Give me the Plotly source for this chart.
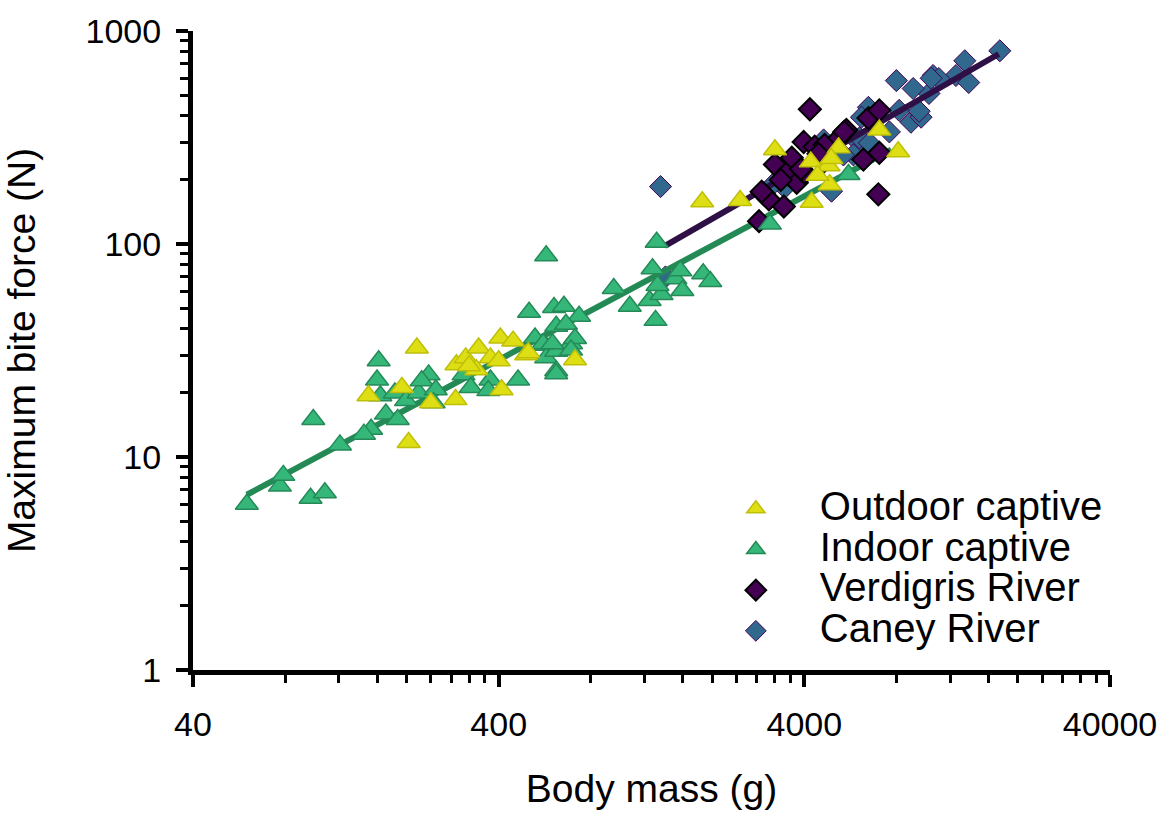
import math
import plotly.graph_objects as go

# ---------------- data ----------------
outdoor_mass = [216, 150, 193, 203, 240, 289, 291, 312, 344, 338, 376, 400, 409, 405, 446, 492, 711, 320, 500,
                1854, 2466, 3205, 4229, 4199, 4800, 5178, 4842, 7036, 8112, 4420, 4900]
outdoor_force = [32.5, 19.4, 21.2, 11.7, 18.0, 18.6, 27.1, 29.2, 32.5, 25.7, 29.2, 28.3, 20.7, 36.2, 35.0, 30.2, 28.6, 26.8, 30.9,
                 158, 160, 277, 157, 243, 233, 283, 190, 343, 271, 210, 252]

indoor_mass = [60, 77, 79, 99, 97, 108, 121, 162, 160, 164, 171, 153, 145, 183, 187, 199, 219, 236, 224, 249, 245,
               307, 324, 376, 370, 463, 526, 567, 572, 617, 617, 690,
               572, 503, 607, 654, 733, 617, 664, 559, 600, 711, 690, 617,
               1315, 1275, 952, 1074, 1304, 1247, 1364, 1514, 1596, 1571, 1867, 1970, 1323,
               3086, 5578]
indoor_force = [6.0, 7.3, 8.2, 15.0, 6.4, 6.8, 11.4, 28.3, 23.0, 19.4, 15.9, 13.5, 12.8, 20.0, 15.0, 18.4, 20.0, 24.3, 22.8, 20.7, 18.0,
                24.3, 21.2, 23.0, 20.5, 23.0, 36.2, 33.5, 29.2, 25.4, 31.4, 34.0,
                88, 47.8, 50.4, 51.0, 45.8, 41.1, 42.0, 34.0, 34.0, 36.0, 31.8, 24.6,
                102, 76.5, 61.8, 51.0, 43.8, 54.3, 57.9, 68.7, 60.5, 74.9, 72.5, 66.6, 63.8,
                124, 212]

verdigris_mass = [4170, 2843, 2953, 3062, 3428, 3205, 3509, 3777, 3640, 3980, 4011, 4325, 4660, 4625,
                  5490, 5212, 6240, 7036, 6484, 7036, 6985, 5400, 2900, 3350, 4450, 3900]
verdigris_force = [429, 128, 171, 162, 150, 236, 216, 194, 254, 301, 216, 286, 292, 243,
                   343, 315, 249, 268, 390, 424, 171, 336, 176, 200, 265, 225]

caney_mass = [17440, 13400, 10550, 12530, 13800, 11020, 10230, 9080, 8000, 8170, 8930, 9640, 6480, 6150,
              6010, 7590, 6060, 6530, 5790, 5370, 4625, 3453, 3330, 4910, 1354, 1405, 3150, 9500, 10400]
caney_force = [807, 725, 618, 618, 573, 598, 509, 537, 585, 424, 373, 394, 438, 394,
               301, 336, 315, 298, 262, 262, 308, 184, 205, 177, 186, 70, 190, 420, 600]

captive_fit_mass = [60, 7700]
captive_fit_force = [6.65, 277]
wild_fit_mass = [1400, 17300]
wild_fit_force = [98, 780]

x_tick_vals = [40, 400, 4000, 40000]
x_tick_text = ["40", "400", "4000", "40000"]
y_tick_vals = [1, 10, 100, 1000]
y_tick_text = ["1", "10", "100", "1000"]

x_minor = [40 * 10 ** d * k for d in range(3) for k in range(2, 10)]
y_minor = [10 ** d * k for d in range(3) for k in range(2, 10)]

FONT = "Liberation Sans, Arial, sans-serif"
LEG = '<span style="font-size:40px">%s</span>'

fig = go.Figure()

fig.add_trace(go.Scatter(
    x=caney_mass, y=caney_force, mode="markers", name=LEG % "Caney River", legendrank=4,
    marker=dict(symbol="diamond", size=17, color="#31688e", line=dict(color="#440154", width=1))))

fig.add_trace(go.Scatter(
    x=wild_fit_mass, y=wild_fit_force, mode="lines", showlegend=False,
    line=dict(color="#2f1046", width=6)))

fig.add_trace(go.Scatter(
    x=captive_fit_mass, y=captive_fit_force, mode="lines", showlegend=False,
    line=dict(color="#238a55", width=6)))

fig.add_trace(go.Scatter(
    x=verdigris_mass, y=verdigris_force, mode="markers", name=LEG % "Verdigris River", legendrank=3,
    marker=dict(symbol="diamond", size=17, color="#440154", line=dict(color="black", width=2))))

fig.add_trace(go.Scatter(
    x=indoor_mass, y=indoor_force, mode="markers", name=LEG % "Indoor captive", legendrank=2,
    marker=dict(symbol="triangle-up", size=20, color="#35b779", line=dict(color="#258a58", width=1.5))))

fig.add_trace(go.Scatter(
    x=outdoor_mass, y=outdoor_force, mode="markers", name=LEG % "Outdoor captive", legendrank=1,
    marker=dict(symbol="triangle-up", size=20, color="#dede14", line=dict(color="#bfbf0a", width=1.5))))

axis_common = dict(
    type="log", showgrid=False, zeroline=False, showline=True, linecolor="black", linewidth=5,
    ticks="outside", ticklen=12, tickwidth=4, tickcolor="black",
    tickfont=dict(family=FONT, size=34, color="black"),
    title_font=dict(family=FONT, size=39, color="black"),
)

fig.update_xaxes(
    **axis_common,
    range=[math.log10(40), math.log10(40000)],
    tickmode="array", tickvals=x_tick_vals, ticktext=x_tick_text,
    minor=dict(tickmode="array", tickvals=x_minor, ticks="outside", ticklen=8, tickwidth=3, tickcolor="black"),
    ticklabelstandoff=8,
    title=dict(text="Body mass (g)", standoff=34),
)
fig.update_yaxes(
    **axis_common,
    range=[0, 3],
    tickmode="array", tickvals=y_tick_vals, ticktext=y_tick_text,
    minor=dict(tickmode="array", tickvals=y_minor, ticks="outside", ticklen=8, tickwidth=3, tickcolor="black"),
    ticklabelstandoff=8,
    title=dict(text="Maximum bite force (N)", standoff=40),
)

fig.update_layout(
    width=1169, height=816,
    margin=dict(l=193, r=55, t=23, b=146),
    paper_bgcolor="white", plot_bgcolor="white",
    font=dict(family=FONT, color="black"),
    legend=dict(
        x=0.544, y=0.292, xanchor="left", yanchor="top",
        font=dict(family=FONT, size=29, color="black"),
        itemwidth=118, bgcolor="rgba(0,0,0,0)", tracegroupgap=0,
    ),
)

fig.write_html("out.html")
